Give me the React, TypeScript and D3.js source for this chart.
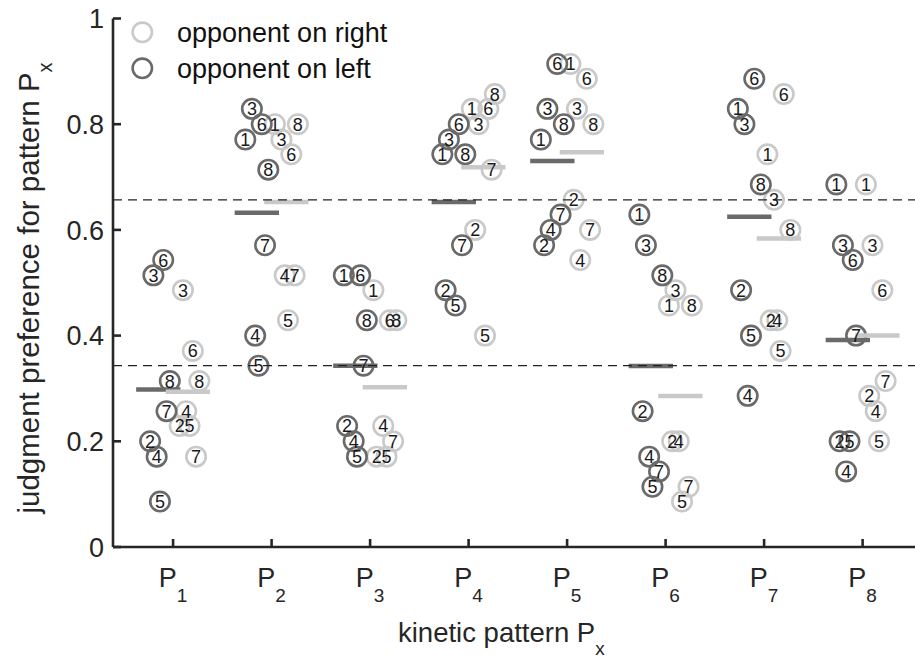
import React from "react";
import * as d3 from "d3";

// kinetic patterns P1..P8
const categories = ["1", "2", "3", "4", "5", "6", "7", "8"];
// subject ids 1..8 (the subject equal to the pattern index is absent)
const subjects = [1, 2, 3, 4, 5, 6, 7, 8];

// judgment preference, opponent on left (dark grey); rows = pattern, cols = subject 1..8
const leftPref: (number | null)[][] = [
  [null, 0.2, 0.514, 0.171, 0.086, 0.543, 0.257, 0.314],
  [0.771, null, 0.829, 0.4, 0.343, 0.8, 0.571, 0.714],
  [0.514, 0.229, null, 0.2, 0.171, 0.514, 0.343, 0.429],
  [0.743, 0.486, 0.771, null, 0.457, 0.8, 0.571, 0.743],
  [0.771, 0.571, 0.829, 0.6, null, 0.914, 0.629, 0.8],
  [0.629, 0.257, 0.571, 0.171, 0.114, null, 0.143, 0.514],
  [0.829, 0.486, 0.8, 0.286, 0.4, 0.886, null, 0.686],
  [0.686, 0.2, 0.571, 0.143, 0.2, 0.543, 0.4, null],
];

// judgment preference, opponent on right (light grey)
const rightPref: (number | null)[][] = [
  [null, 0.229, 0.486, 0.257, 0.229, 0.371, 0.171, 0.314],
  [0.8, null, 0.771, 0.514, 0.429, 0.743, 0.514, 0.8],
  [0.486, 0.171, null, 0.229, 0.171, 0.429, 0.2, 0.429],
  [0.829, 0.6, 0.8, null, 0.4, 0.829, 0.714, 0.857],
  [0.914, 0.657, 0.829, 0.543, null, 0.886, 0.6, 0.8],
  [0.457, 0.2, 0.486, 0.2, 0.086, null, 0.114, 0.457],
  [0.743, 0.429, 0.657, 0.429, 0.371, 0.857, null, 0.6],
  [0.686, 0.286, 0.571, 0.257, 0.2, 0.486, 0.314, null],
];

const yTicks = [0, 0.2, 0.4, 0.6, 0.8, 1];
const yTickLabels = ["0", "0.2", "0.4", "0.6", "0.8", "1"];
const thresholds = [0.343, 0.657];
const legendLabels = ["opponent on right", "opponent on left"];

const W = 915;
const H = 657;
const FONT = "'Liberation Sans', Arial, Helvetica, sans-serif";
const DARK = "#6a6a6a";
const LIGHT = "#c9c9c9";
const AXIS = "#262626";

export default function App() {
  const x = d3.scaleLinear().domain([0.39, 8.61]).range([113, 922.7]);
  const y = d3.scaleLinear().domain([0, 1]).range([547, 18.5]);
  const r = 9.7;

  type Pt = { cat: number; subj: number; v: number; side: "L" | "R" };
  const pts = (arr: (number | null)[][], side: "L" | "R"): Pt[] =>
    arr.flatMap((row, ci) =>
      row
        .map((v, si) => ({ cat: ci + 1, subj: subjects[si], v: v as number, side }))
        .filter((p) => p.v !== null)
    );
  const leftPts = pts(leftPref, "L");
  const rightPts = pts(rightPref, "R");
  const px = (p: Pt) => x(p.cat + p.subj / 30 - (p.side === "L" ? 0.3 : 0));

  const leftMeans = leftPref.map((row) => d3.mean(row.filter((v) => v !== null) as number[]) as number);
  const rightMeans = rightPref.map((row) => d3.mean(row.filter((v) => v !== null) as number[]) as number);

  const circle = (p: Pt, i: number) => (
    <circle key={p.side + i} cx={px(p)} cy={y(p.v)} r={r} fill="none"
      stroke={p.side === "L" ? DARK : LIGHT} strokeWidth={2.6} />
  );
  const label = (p: Pt, i: number) => (
    <text key={"t" + p.side + i} x={px(p)} y={y(p.v) + 6.5} textAnchor="middle"
      fontSize={18} fill="#1a1a1a" fontFamily={FONT}>{p.subj}</text>
  );

  return (
    <svg width={W} height={H} style={{ position: "absolute", left: 0, top: 0, background: "#fff" }}>
      <rect width={W} height={H} fill="#fff" />
      {/* circles */}
      {rightPts.map(circle)}
      {leftPts.map(circle)}
      {/* mean bars */}
      {categories.map((c, i) => (
        <g key={"m" + c}>
          <line x1={x(i + 1 - 0.375)} x2={x(i + 1 + 0.075)} y1={y(leftMeans[i])} y2={y(leftMeans[i])}
            stroke={DARK} strokeWidth={4.5} />
          <line x1={x(i + 1 - 0.075)} x2={x(i + 1 + 0.375)} y1={y(rightMeans[i])} y2={y(rightMeans[i])}
            stroke={LIGHT} strokeWidth={4.5} />
        </g>
      ))}
      {/* threshold lines */}
      {thresholds.map((t) => (
        <line key={"th" + t} x1={x(0.39)} x2={x(8.61)} y1={y(t)} y2={y(t)}
          stroke="#222" strokeWidth={1.3} strokeDasharray="9 6" />
      ))}
      {/* labels */}
      {rightPts.map(label)}
      {leftPts.map(label)}

      {/* axes */}
      <line x1={113} x2={113} y1={y(1)} y2={y(0)} stroke={AXIS} strokeWidth={2.6} />
      <line x1={113} x2={x(8.61)} y1={y(0)} y2={y(0)} stroke={AXIS} strokeWidth={2.6} />
      {yTicks.map((t, i) => (
        <g key={"yt" + t}>
          <line x1={113} x2={121} y1={y(t)} y2={y(t)} stroke={AXIS} strokeWidth={2.6} />
          <text x={104} y={y(t) + 9.6} textAnchor="end" fontSize={27} fill={AXIS} fontFamily={FONT}>
            {yTickLabels[i]}
          </text>
        </g>
      ))}
      {categories.map((c, i) => (
        <g key={"xt" + c}>
          <line x1={x(i + 1)} x2={x(i + 1)} y1={y(0)} y2={y(0) - 8} stroke={AXIS} strokeWidth={2.6} />
          <text x={x(i + 1)} y={587} textAnchor="middle" fontSize={27} fill={AXIS} fontFamily={FONT}>
            P<tspan fontSize={19} dy={15}>{c}</tspan>
          </text>
        </g>
      ))}
      <text x={398} y={642} fontSize={27.5} fill={AXIS} fontFamily={FONT}>
        kinetic pattern P<tspan fontSize={19} dy={13}>x</tspan>
      </text>
      <text transform="translate(39,288) rotate(-90)" textAnchor="middle" fontSize={29.5} fill={AXIS} fontFamily={FONT}>
        judgment preference for pattern P<tspan fontSize={20} dy={13}>x</tspan>
      </text>

      {/* legend */}
      {legendLabels.map((l, i) => (
        <g key={l}>
          <circle cx={142.3} cy={32.3 + i * 36} r={r} fill="none" stroke={i === 0 ? LIGHT : DARK} strokeWidth={2.6} />
          <text x={177} y={32.3 + i * 36 + 9.6} fontSize={27} fill="#111" fontFamily={FONT}>{l}</text>
        </g>
      ))}
    </svg>
  );
}
